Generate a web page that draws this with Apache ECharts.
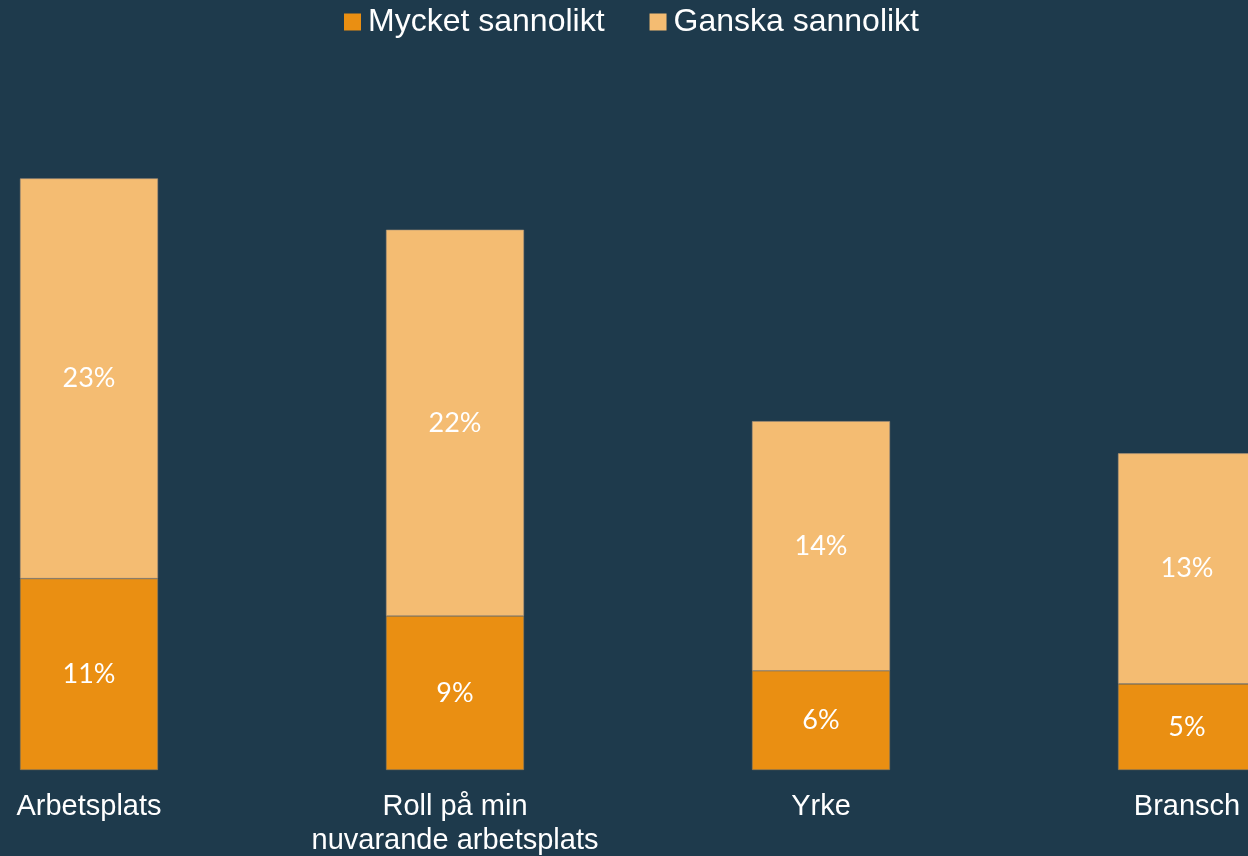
<!DOCTYPE html>
<html>
<head>
<meta charset="utf-8">
<script src="https://cdn.jsdelivr.net/npm/echarts@6/dist/echarts.min.js"></script>
<style>
  html, body { margin: 0; padding: 0; background: #1e3a4c; }
  #chart { width: 1248px; height: 856px; }
</style>
</head>
<body>
<div id="chart"></div>
<script>
const categories = ["Arbetsplats", "Roll på min\nnuvarande arbetsplats", "Yrke", "Bransch"];
const mycket = [11.0, 8.85, 5.7, 4.95];
const ganska = [23.0, 22.2, 14.35, 13.25];

const chart = echarts.init(document.getElementById("chart"));

const barLabel = {
  show: true,
  position: "inside",
  color: "#ffffff",
  fontFamily: "Lato",
  fontSize: 27,
  formatter: (p) => Math.round(p.value) + "%",
};

const option = {
  backgroundColor: "#1e3a4c",
  legend: {
    top: 6,
    left: 344,
    padding: 0,
    itemWidth: 17,
    itemHeight: 17,
    itemGap: 45,
    icon: "rect",
    itemStyle: { borderWidth: 0 },
    textStyle: { color: "#ffffff", fontFamily: "Liberation Sans", fontSize: 32, padding: [0, 0, 0, 2] },
    data: ["Mycket sannolikt", "Ganska sannolikt"],
  },
  grid: { left: -94, right: -122, top: 74, bottom: 86, outerBoundsMode: "none", containLabel: false },
  xAxis: {
    type: "category",
    data: categories,
    axisLine: { show: false },
    axisTick: { show: false },
    axisLabel: {
      color: "#ffffff",
      fontFamily: "Liberation Sans",
      fontSize: 29,
      lineHeight: 34,
      margin: 20,
      interval: 0,
    },
  },
  yAxis: {
    type: "value",
    min: 0,
    max: 40,
    show: false,
    splitLine: { show: false },
  },
  series: [
    {
      name: "Mycket sannolikt",
      type: "bar",
      stack: "total",
      barWidth: 138,
      data: mycket,
      itemStyle: { color: "#ea8f12", borderColor: "#8a7a60", borderWidth: 0.6 },
      label: barLabel,
    },
    {
      name: "Ganska sannolikt",
      type: "bar",
      stack: "total",
      barWidth: 138,
      data: ganska,
      itemStyle: { color: "#f4bc72", borderColor: "#a8927a", borderWidth: 0.6 },
      label: barLabel,
    },
  ],
};

chart.setOption(option);
</script>
</body>
</html>
